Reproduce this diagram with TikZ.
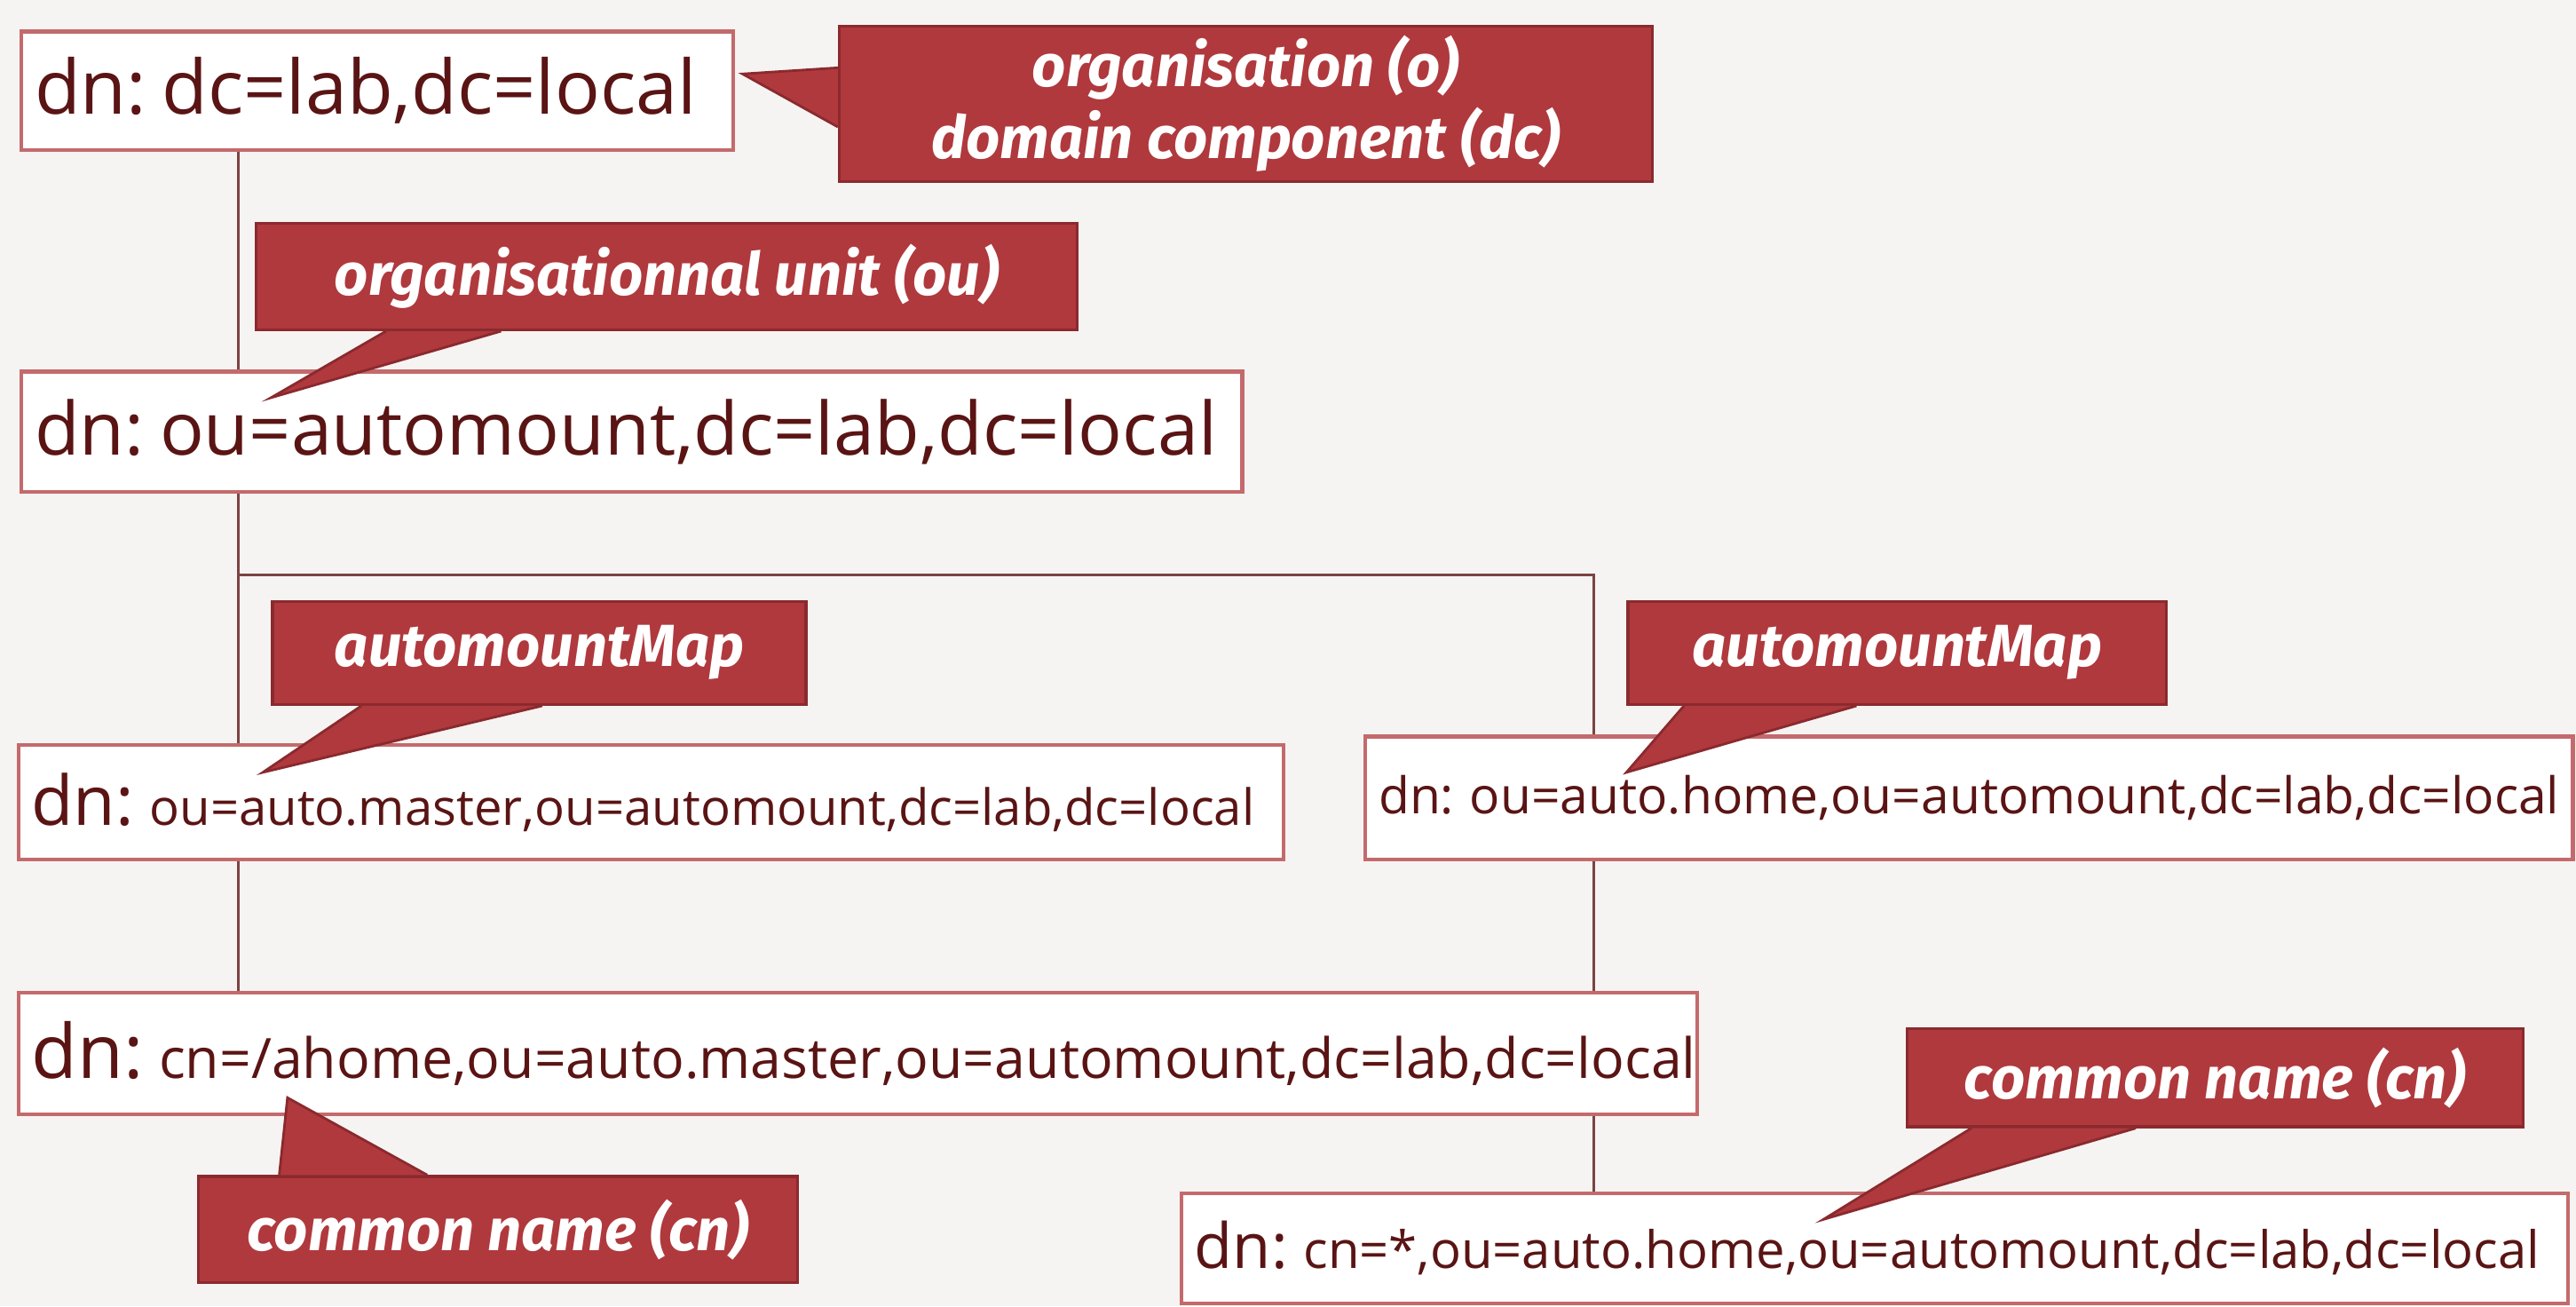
\documentclass[tikz,border=0pt]{standalone}
\usepackage{fontspec}
\setmainfont{Open Sans}
\newfontfamily\notefont{Fira Sans}
\usetikzlibrary{positioning}
\usetikzlibrary{calc}
\definecolor{paper}{HTML}{F6F4F2}
\definecolor{ink}{HTML}{5A1414}
\definecolor{edge}{HTML}{C46A6C}
\definecolor{note}{HTML}{B0393D}
\definecolor{notedge}{HTML}{8A2A2E}
\newlength\px
\setlength\px{0.0185cm}
\newcommand\fsz[1]{\fontsize{#1}{#1}\selectfont}
\begin{document}
\begin{tikzpicture}[x=0.0185cm, y=-0.0185cm,
        entry/.style={draw=edge, very thick, fill=white, rectangle, anchor=north west, inner xsep=8\px, inner ysep=0pt, text=ink, align=left},
        note/.style={draw=notedge, thick, fill=note, rectangle, anchor=north west, inner sep=0pt, text=white, align=center, font=\notefont\bfseries\itshape\fontsize{19pt}{23pt}\selectfont},
        tail/.style={draw=notedge, thick, fill=note},
        link/.style={draw=ink!80, thick},
    ]
        \fill[paper] (0,0) rectangle (1568,795);
        % tree lines
        \draw[link] (145,90) -- (145,225);
        \draw[link] (145,298) -- (145,452);
        \draw[link] (145,350) -- (970,350) -- (970,447);
        \draw[link] (145,522) -- (145,603);
        \draw[link] (970,522) -- (970,725);

        % entries
        \node[entry, text width=417\px, minimum height=72\px] (base) at (12,18)
            {\fsz{24pt}dn: dc=lab,dc=local};
        \node[entry, text width=727\px, minimum height=73\px] (unit) at (12,225)
            {\fsz{23.5pt}dn: ou=automount,dc=lab,dc=local};
        \node[entry, text width=754\px, minimum height=70\px] (master) at (10,452)
            {\fsz{22pt}dn: \fsz{16pt}ou=auto.master,ou=automount,dc=lab,dc=local};
        \node[entry, text width=719\px, minimum height=75\px] (home) at (830,447)
            {\fsz{16.2pt}dn: ou=auto.home,ou=automount,dc=lab,dc=local};
        \node[entry, text width=1006\px, minimum height=74\px] (ahome) at (10,603)
            {\fsz{24pt}dn: \fsz{17.8pt}cn=/ahome,ou=auto.master,ou=automount,dc=lab,dc=local};
        \node[entry, text width=828\px, minimum height=67\px] (star) at (718,725)
            {\fsz{20pt}dn: \fsz{16.5pt}cn=*,ou=auto.home,ou=automount,dc=lab,dc=local};

        % notes
        \coordinate (t1) at (452,45);
        \coordinate (t2) at (165,242);
        \coordinate (t3) at (160,470);
        \coordinate (t4) at (990,470);
        \coordinate (t5) at (175,668);
        \coordinate (t6) at (1110,742);
        \node[note, minimum width=495\px, minimum height=95\px] (org) at (510,15)
            {organisation (o)\\domain component (dc)};
        \node[note, minimum width=500\px, minimum height=65\px] (ou) at (155,135) {organisationnal unit (ou)};
        \node[note, minimum width=325\px, minimum height=63\px] (mapa) at (165,365) {automountMap};
        \node[note, minimum width=328\px, minimum height=63\px] (mapb) at (990,365) {automountMap};
        \node[note, minimum width=365\px, minimum height=65\px] (cna) at (120,715) {common name (cn)};
        \node[note, minimum width=375\px, minimum height=60\px] (cnb) at (1160,625) {common name (cn)};

        \draw[tail] ($(org.west)+(0,-22)$) -- (t1) -- ($(org.west)+(0,14)$);
        \draw[tail] ($(ou.south west)+(80,0)$) -- (t2) -- ($(ou.south west)+(150,0)$);
        \draw[tail] ($(mapa.south west)+(55,0)$) -- (t3) -- ($(mapa.south west)+(165,0)$);
        \draw[tail] ($(mapb.south west)+(35,0)$) -- (t4) -- ($(mapb.south west)+(140,0)$);
        \draw[tail] ($(cna.north west)+(50,0)$) -- (t5) -- ($(cna.north west)+(140,0)$);
        \draw[tail] ($(cnb.south west)+(40,0)$) -- (t6) -- ($(cnb.south west)+(140,0)$);
        % notes again, over the tails
        \fill[note] ($(org.north west)+(1,1)$) rectangle ($(org.south east)+(-1,-1)$);
        \fill[note] ($(ou.north west)+(1,1)$) rectangle ($(ou.south east)+(-1,-1)$);
        \fill[note] ($(mapa.north west)+(1,1)$) rectangle ($(mapa.south east)+(-1,-1)$);
        \fill[note] ($(mapb.north west)+(1,1)$) rectangle ($(mapb.south east)+(-1,-1)$);
        \fill[note] ($(cna.north west)+(1,1)$) rectangle ($(cna.south east)+(-1,-1)$);
        \fill[note] ($(cnb.north west)+(1,1)$) rectangle ($(cnb.south east)+(-1,-1)$);
        \node[note, draw=none, fill=none, anchor=center] at (org) {organisation (o)\\domain component (dc)};
        \node[note, draw=none, fill=none, anchor=center] at (ou) {organisationnal unit (ou)};
        \node[note, draw=none, fill=none, anchor=center] at (mapa) {automountMap};
        \node[note, draw=none, fill=none, anchor=center] at (mapb) {automountMap};
        \node[note, draw=none, fill=none, anchor=center] at (cna) {common name (cn)};
        \node[note, draw=none, fill=none, anchor=center] at (cnb) {common name (cn)};
    \end{tikzpicture}
\end{document}
